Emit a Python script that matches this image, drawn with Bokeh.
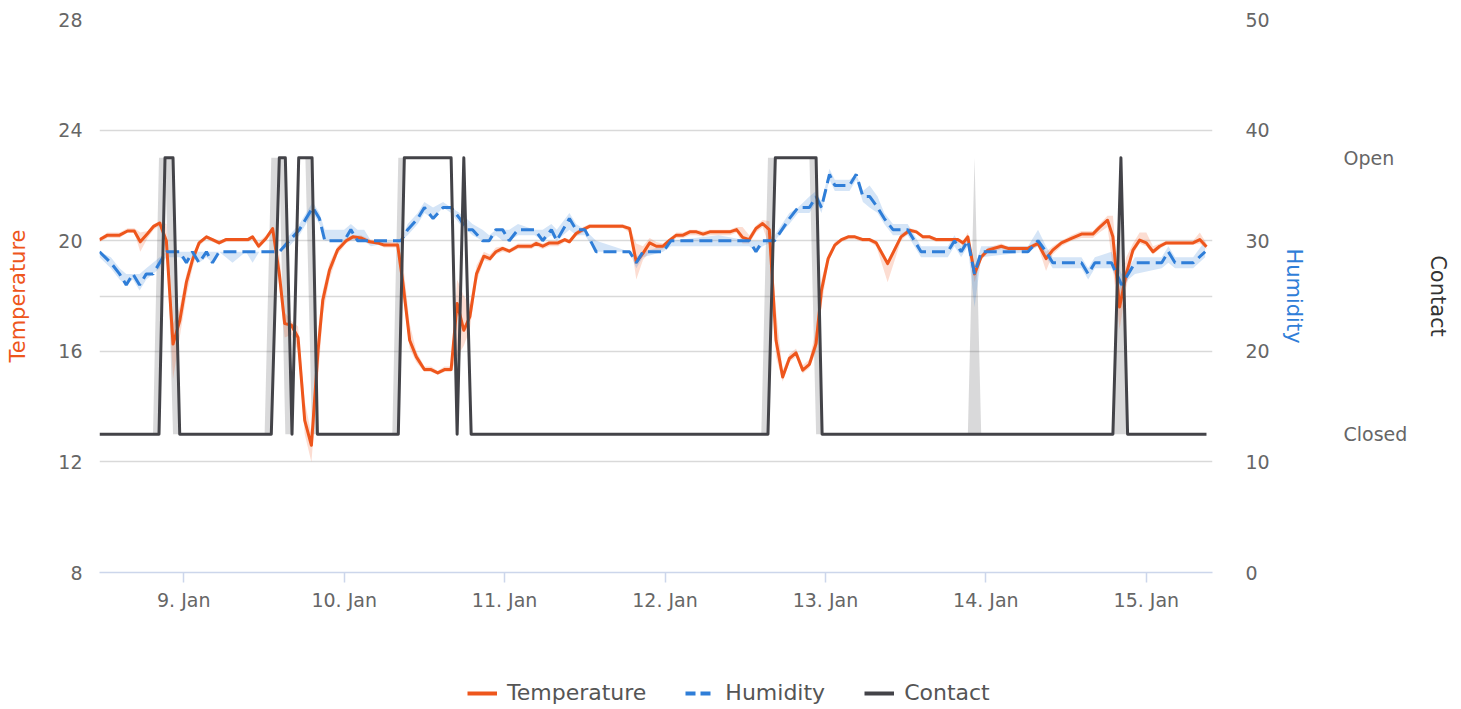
import pandas as pd
from bokeh.plotting import figure
from bokeh.layouts import column
from bokeh.models import (Range1d, LinearAxis, FixedTicker, DatetimeTickFormatter,
                          Legend, LegendItem)
from bokeh.embed import file_html
from bokeh.resources import INLINE

# ---------------- data (hours relative to 9 Jan 00:00) ----------------
temp_hours = [-12.6, -11.4, -9.6, -8.4, -7.4, -6.5, -5.4, -4.5, -3.6, -2.6, -1.6, -0.6, 0.4, 1.3, 2.3, 3.4,
              4.3, 5.3, 6.3, 9.6, 10.3, 11.2, 12.3, 13.3, 14.3, 15.1, 16.1, 17.1, 18.1, 19.1, 20.1, 20.8,
              21.8, 23.0, 24.3, 25.3, 26.5, 27.8, 29.0, 30.0, 32.0, 32.8, 33.8, 34.8, 36.0, 37.0, 38.0,
              39.0, 40.0, 40.9, 41.9, 42.8, 43.8, 44.9, 45.8, 46.7, 47.7, 48.7, 50.0, 52.0, 52.7, 53.7,
              54.7, 56.0, 57.0, 57.7, 58.7, 59.7, 60.7, 65.7, 66.7, 67.7, 68.7, 69.7, 70.7, 71.7, 72.7,
              73.7, 74.7, 75.7, 76.7, 77.7, 78.7, 81.7, 82.7, 83.6, 84.6, 85.6, 86.6, 87.6, 88.6, 89.6,
              90.6, 91.6, 92.6, 93.6, 94.6, 95.4, 96.4, 97.4, 98.4, 99.4, 100.4, 101.6, 102.6, 103.6,
              105.3, 107.3, 108.6, 109.6, 110.6, 111.6, 112.6, 115.8, 116.6, 117.3, 118.3, 119.3, 120.3,
              122.3, 123.3, 126.3, 127.8, 129.0, 130.0, 131.3, 132.8, 134.3, 136.0, 137.0, 138.2, 139.0,
              140.0, 141.0, 142.0, 143.0, 144.0, 145.0, 146.0, 147.0, 151.0, 152.0, 153.0]
temp_vals = [20.04, 20.2, 20.2, 20.35, 20.35, 19.96, 20.26, 20.52, 20.64, 20.0, 16.26, 17.1, 18.5, 19.3, 19.92, 20.14,
             20.04, 19.92, 20.04, 20.04, 20.14, 19.8, 20.08, 20.44, 18.8, 17.0, 16.95, 16.5, 13.5, 12.6, 16.04, 17.85,
             18.93, 19.66, 20.0, 20.14, 20.1, 19.96, 19.92, 19.84, 19.84, 18.45, 16.4, 15.8, 15.34, 15.34, 15.22,
             15.34, 15.34, 17.73, 16.76, 17.25, 18.8, 19.44, 19.35, 19.6, 19.72, 19.62, 19.8, 19.8, 19.9, 19.8,
             19.92, 19.92, 20.04, 19.96, 20.26, 20.4, 20.52, 20.52, 20.44, 19.23, 19.54, 19.92, 19.8, 19.8, 20.02,
             20.2, 20.2, 20.32, 20.32, 20.24, 20.32, 20.32, 20.4, 20.12, 20.04, 20.44, 20.62, 20.4, 16.4, 15.07,
             15.74, 15.94, 15.32, 15.53, 16.28, 18.2, 19.35, 19.84, 20.04, 20.14, 20.14, 20.04, 20.04, 19.92,
             19.17, 20.14, 20.38, 20.32, 20.14, 20.14, 20.04, 20.04, 19.92, 20.14, 18.8, 19.41, 19.66,
             19.8, 19.72, 19.72, 19.9, 19.35, 19.66, 19.92, 20.08, 20.24, 20.24, 20.48, 20.74, 20.14,
             17.6, 18.8, 19.66, 20.02, 19.92, 19.6, 19.8, 19.92, 19.92, 20.04, 19.78]
temp_lo = [19.95, 20.1, 20.1, 20.3, 20.3, 19.6, 20.1, 20.4, 20.55, 19.5, 15.0, 16.5, 18.0, 19.0, 19.8, 20.05,
           19.95, 19.85, 19.95, 19.95, 20.05, 19.7, 20.0, 20.3, 18.3, 16.5, 16.6, 16.0, 13.0, 12.0, 15.0, 17.3,
           18.6, 19.5, 19.9, 20.05, 20.0, 19.9, 19.85, 19.75, 19.75, 18.0, 16.1, 15.6, 15.25, 15.25, 15.15,
           15.25, 15.25, 15.8, 16.2, 16.8, 18.5, 19.3, 19.25, 19.5, 19.6, 19.55, 19.7, 19.7, 19.8, 19.7,
           19.8, 19.8, 19.95, 19.9, 20.15, 20.3, 20.45, 20.45, 20.3, 18.6, 19.3, 19.6, 19.6, 19.7, 19.95,
           20.1, 20.1, 20.2, 20.2, 20.15, 20.2, 20.2, 20.3, 19.9, 19.9, 20.3, 20.5, 19.8, 15.8, 14.9,
           15.6, 15.8, 15.2, 15.4, 16.0, 17.6, 19.2, 19.75, 19.95, 20.05, 20.05, 19.95, 19.95, 19.8,
           18.5, 20.0, 20.3, 20.25, 20.05, 20.05, 19.95, 19.95, 19.8, 20.0, 18.5, 19.3, 19.55,
           19.7, 19.65, 19.65, 19.8, 18.9, 19.5, 19.8, 20.0, 20.1, 20.1, 20.3, 20.5, 19.0,
           16.8, 18.3, 19.5, 19.9, 19.8, 19.5, 19.7, 19.85, 19.85, 19.9, 19.7]
temp_hi = [20.1, 20.3, 20.3, 20.45, 20.45, 20.3, 20.35, 20.6, 20.7, 20.6, 17.0, 17.6, 18.8, 19.5, 20.0, 20.2,
           20.1, 20.0, 20.1, 20.1, 20.2, 19.95, 20.2, 20.5, 19.5, 17.4, 17.1, 16.9, 14.2, 13.0, 16.8, 18.2,
           19.2, 19.8, 20.1, 20.2, 20.2, 20.05, 20.0, 19.95, 19.95, 19.2, 17.0, 16.0, 15.45, 15.45, 15.3,
           15.45, 15.45, 18.6, 18.0, 17.7, 19.1, 19.6, 19.5, 19.75, 19.8, 19.7, 19.9, 19.9, 20.0, 19.9,
           20.0, 20.0, 20.1, 20.05, 20.35, 20.5, 20.6, 20.6, 20.5, 19.9, 19.8, 20.1, 19.95, 19.9, 20.1,
           20.3, 20.3, 20.4, 20.4, 20.35, 20.4, 20.4, 20.5, 20.5, 20.2, 20.55, 20.75, 20.7, 17.5, 15.3,
           15.9, 16.1, 15.5, 15.7, 16.8, 18.6, 19.5, 19.95, 20.1, 20.2, 20.2, 20.1, 20.1, 20.0,
           19.3, 20.25, 20.45, 20.4, 20.2, 20.2, 20.1, 20.1, 20.0, 20.3, 19.1, 19.5, 19.75,
           19.9, 19.8, 19.8, 20.0, 19.6, 19.8, 20.0, 20.2, 20.35, 20.35, 20.6, 20.9, 20.9,
           18.2, 19.4, 19.9, 20.3, 20.3, 19.8, 19.9, 20.0, 20.0, 20.3, 19.9]

hum_hours = [-12.6, -10.9, -9.6, -8.6, -7.6, -6.6, -5.6, -4.6, -3.6, -2.6, -1.6, -0.6, 0.4, 1.3, 2.3, 3.4,
             4.3, 5.3, 7.3, 9.3, 10.3, 11.3, 14.3, 15.8, 17.3, 18.3, 19.3, 20.3, 21.1, 24.0, 25.0, 26.0,
             27.0, 28.0, 32.5, 33.5, 35.0, 36.0, 37.3, 38.8, 40.0, 41.3, 42.3, 43.2, 44.7, 45.7, 46.7,
             47.7, 48.7, 50.0, 52.5, 53.7, 55.0, 55.8, 57.7, 58.7, 60.0, 61.7, 66.7, 67.7, 68.7, 71.7,
             72.9, 80.0, 84.6, 85.6, 86.6, 88.4, 90.6, 91.9, 93.6, 94.6, 95.4, 96.6, 97.4, 99.6, 100.6,
             101.6, 102.6, 103.8, 104.8, 106.1, 108.3, 109.3, 110.3, 114.3, 115.3, 116.3, 117.3, 118.3,
             119.3, 126.3, 127.8, 129.0, 130.0, 134.3, 135.3, 136.3, 138.8, 140.3, 141.3, 142.3, 146.3,
             147.3, 148.3, 151.0, 152.8]
hum_vals = [29, 28, 27, 26, 27, 26, 27, 27, 28, 29, 29, 29, 28, 29, 28, 29,
            28, 29, 29, 29, 29, 29, 29, 30, 31, 32, 33, 32, 30, 30, 31, 30,
            30, 30, 30, 31, 32, 33, 32, 33, 33, 32, 31, 31, 30, 30, 31,
            31, 30, 31, 31, 30, 31, 30, 32, 31, 31, 29, 29, 28, 29, 29,
            30, 30, 30, 29, 30, 30, 32, 33, 33, 34, 33, 36, 35, 35, 36,
            34, 34, 33, 32, 31, 31, 30, 29, 29, 30, 29, 30, 27,
            29, 29, 30, 29, 28, 28, 27, 28, 28, 26, 27, 28, 28,
            29, 28, 28, 29]
hum_lo = [28.5, 27.5, 26.5, 26, 26.5, 25.5, 26.5, 27, 27.5, 28.5, 28.5, 28.5, 28, 28.5, 28, 28.5,
          28, 29, 28, 29, 28, 29, 29, 29.5, 30.5, 31.5, 32.5, 31.5, 30, 30, 30, 30,
          30, 29.5, 30, 30.5, 31.5, 32.5, 32, 33, 32.5, 31.5, 31, 30.5, 30, 30, 30.5,
          30, 30, 30.5, 30.5, 30, 30.5, 30, 31, 30.5, 30.5, 29, 29, 27.5, 28.5, 29,
          29.5, 29.5, 29.5, 29, 29.5, 30, 31.5, 32.5, 32.5, 33.5, 32.5, 35.5, 34.5, 34.5, 35.5,
          33.5, 33, 32.5, 31.5, 30.5, 30.5, 29.5, 28.5, 28.5, 29.5, 28.5, 29.5, 24,
          28.5, 29, 29.5, 28.5, 27.5, 27.5, 26.5, 27.5, 27.5, 25.5, 26.5, 27, 27.5,
          28, 27.5, 27.5, 28.5]
hum_hi = [29, 28.5, 27.5, 27, 27, 27, 27.5, 28, 28.5, 29, 29, 29, 29, 29, 29, 29,
          29, 29, 29, 29, 29, 29, 29, 30.5, 31.5, 32.5, 33.5, 32.5, 31, 31, 31.5, 31,
          31, 30, 30, 31.5, 32.5, 33.5, 33, 33.5, 33, 32.5, 32, 31.5, 31, 30.5, 31,
          31, 31, 31.5, 31, 31, 31.5, 31, 32.5, 31.5, 31, 30, 29, 28.5, 29, 29.5,
          30, 30.5, 30, 30, 30, 30.5, 32.5, 33, 34, 34.5, 33.5, 36.5, 35.5, 35.5, 36,
          34.5, 35, 34, 32.5, 31.5, 31.5, 30.5, 29.5, 29.5, 30.5, 29.5, 30.5, 27.5,
          29.5, 29.5, 31, 29.5, 28.5, 28.5, 27.5, 28.5, 29, 27, 27.5, 28.5, 28.5,
          29.5, 28.5, 28.5, 30]

contact_hours = [-12.6, -4.6, -3.7, -2.8, -1.6, -0.6, 12.1, 13.1, 14.3, 15.2, 16.2, 17.2, 18.2, 19.2, 20.0,
                 31.2, 32.1, 33.0, 40.0, 40.9, 41.9, 43.0, 86.4, 87.4, 88.5, 93.6, 94.6, 95.5, 117.3,
                 118.3, 119.3, 139.0, 140.2, 141.2, 153.0]
contact_vals = [0, 0, 0, 1, 1, 0, 0, 0, 1, 1, 0, 1, 1, 1, 0,
                0, 0, 1, 1, 0, 1, 0, 0, 0, 1, 1, 1, 0, 0,
                0, 0, 0, 1, 0, 0]
contact_lo = [0, 0, 0, 1, 0, 0, 0, 0, 1, 0, 0, 1, 1, 0, 0,
              0, 0, 1, 1, 0, 1, 0, 0, 0, 1, 1, 0, 0, 0,
              0, 0, 0, 0, 0, 0]
contact_hi = [0, 0, 1, 1, 1, 0, 0, 1, 1, 1, 0, 1, 1, 1, 0,
              0, 1, 1, 1, 0, 1, 0, 0, 1, 1, 1, 1, 0, 0,
              1, 0, 0, 1, 0, 0]

day_ticks = ["2024-01-09", "2024-01-10", "2024-01-11", "2024-01-12", "2024-01-13", "2024-01-14", "2024-01-15"]
temp_ticks = [8, 12, 16, 20, 24, 28]
hum_ticks = [0, 10, 20, 30, 40, 50]
contact_labels = {0: "Closed", 1: "Open"}
series_names = ["Temperature", "Humidity", "Contact"]

BASE = pd.Timestamp("2024-01-09")
def to_time(hours):
    return [BASE + pd.Timedelta(hours=h) for h in hours]

t_temp = to_time(temp_hours)
t_hum = to_time(hum_hours)
t_con = to_time(contact_hours)

ORANGE = "#EE561C"
BLUE = "#2F7ED8"
DARK = "#434348"
FONT = "DejaVu Sans"
TICK_SIZE = "19px"
TITLE_SIZE = "21px"
HUM_DASH = "13 6"

p = figure(frame_width=1113, frame_height=553, x_axis_type="datetime", output_backend="svg",
           toolbar_location=None,
           x_range=Range1d(BASE + pd.Timedelta(hours=-12.6), BASE + pd.Timedelta(hours=153.9)),
           y_range=Range1d(8, 28),
           min_border_left=99, min_border_right=10, min_border_top=19, min_border_bottom=48)
p.outline_line_color = None
p.background_fill_color = "white"
p.extra_y_ranges = {"hum": Range1d(0, 50), "contact": Range1d(-0.5, 1.5)}

# bands
p.varea(x=t_con, y1=contact_lo, y2=contact_hi, fill_color=DARK, fill_alpha=0.2, y_range_name="contact")
p.varea(x=t_temp, y1=temp_lo, y2=temp_hi, fill_color=ORANGE, fill_alpha=0.2)
p.varea(x=t_hum, y1=hum_lo, y2=hum_hi, fill_color=BLUE, fill_alpha=0.2, y_range_name="hum")

p.line(t_temp, temp_vals, line_color=ORANGE, line_width=3, line_join="round")
p.line(t_hum, hum_vals, line_color=BLUE, line_width=3, line_dash=HUM_DASH, y_range_name="hum")
p.line(t_con, contact_vals, line_color=DARK, line_width=3, line_join="round", y_range_name="contact")

# grid
p.xgrid.visible = False
p.ygrid.ticker = FixedTicker(ticks=[12, 16, 18, 20, 24, 28])
p.ygrid.grid_line_color = "#d9d9d9"
p.ygrid.grid_line_width = 1.5

# x axis
xa = p.xaxis[0]
xa.ticker = FixedTicker(ticks=[pd.Timestamp(d).value // 10**6 for d in day_ticks])
fmt = "%-d. %b"
xa.formatter = DatetimeTickFormatter(days=fmt, months=fmt, hours=fmt, minutes=fmt, years=fmt,
                                     milliseconds=fmt, seconds=fmt, minsec=fmt, hourmin=fmt)
xa.axis_line_color = "#ccd6eb"
xa.axis_line_width = 1.5
xa.major_tick_line_color = "#ccd6eb"
xa.major_tick_line_width = 1.5
xa.major_tick_out = 10
xa.major_tick_in = 0
xa.minor_tick_line_color = None
xa.major_label_text_color = "#666666"
xa.major_label_text_font = FONT
xa.major_label_text_font_size = TICK_SIZE
xa.major_label_standoff = 6

# left axis
ya = p.yaxis[0]
ya.ticker = FixedTicker(ticks=temp_ticks)
ya.axis_line_color = None
ya.major_tick_line_color = None
ya.minor_tick_line_color = None
ya.major_tick_out = 0
ya.major_label_standoff = 17
ya.major_label_text_color = "#666666"
ya.major_label_text_font = FONT
ya.major_label_text_font_size = TICK_SIZE
ya.axis_label = "Temperature"
ya.axis_label_text_color = ORANGE
ya.axis_label_text_font = FONT
ya.axis_label_text_font_style = "normal"
ya.axis_label_text_font_size = TITLE_SIZE
ya.axis_label_standoff = 25

def style_right(ax, label, color, lab_standoff, title_standoff):
    ax.axis_line_color = None
    ax.major_tick_line_color = None
    ax.minor_tick_line_color = None
    ax.major_tick_out = 0
    ax.major_label_standoff = lab_standoff
    ax.major_label_text_color = "#666666"
    ax.major_label_text_font = FONT
    ax.major_label_text_font_size = TICK_SIZE
    ax.axis_label = label
    ax.axis_label_text_color = color
    ax.axis_label_text_font = FONT
    ax.axis_label_text_font_style = "normal"
    ax.axis_label_text_font_size = TITLE_SIZE
    ax.axis_label_standoff = title_standoff

ha = LinearAxis(y_range_name="hum", ticker=FixedTicker(ticks=hum_ticks))
style_right(ha, "Humidity", BLUE, 33, 9)
p.add_layout(ha, "right")

ca = LinearAxis(y_range_name="contact", ticker=FixedTicker(ticks=list(contact_labels.keys())),
                major_label_overrides=contact_labels)
style_right(ca, "Contact", "#333333", 35, 16)
p.add_layout(ca, "right")

# ---------------- legend strip (separate small figure below the chart) ----------------
lg = figure(width=1445, height=86, output_backend="svg", toolbar_location=None,
            x_range=Range1d(0, 1), y_range=Range1d(0, 1),
            x_axis_location=None, y_axis_location=None,
            min_border_left=0, min_border_right=0, min_border_top=0, min_border_bottom=0)
lg.outline_line_color = None
lg.xgrid.visible = False
lg.ygrid.visible = False
# legend keys: tiny lines placed outside the visible range, only their styles are shown
k_temp = lg.line([5, 6], [5, 6], line_color=ORANGE, line_width=4)
k_hum = lg.line([5, 6], [5, 6], line_color=BLUE, line_width=4, line_dash="10 5")
k_con = lg.line([5, 6], [5, 6], line_color=DARK, line_width=4)

legend = Legend(items=[LegendItem(label=series_names[0], renderers=[k_temp]),
                       LegendItem(label=series_names[1], renderers=[k_hum]),
                       LegendItem(label=series_names[2], renderers=[k_con])],
                orientation="horizontal", location=(368, 1))
legend.padding = 0
legend.margin = 0
legend.spacing = 39
legend.label_standoff = 10
legend.glyph_width = 30
legend.label_text_font = FONT
legend.label_text_font_size = "22px"
legend.label_text_color = "#555555"
legend.border_line_color = None
legend.background_fill_alpha = 0
lg.add_layout(legend, "center")

layout = column(p, lg, spacing=0)
open("out.html", "w").write(file_html(layout, INLINE))
